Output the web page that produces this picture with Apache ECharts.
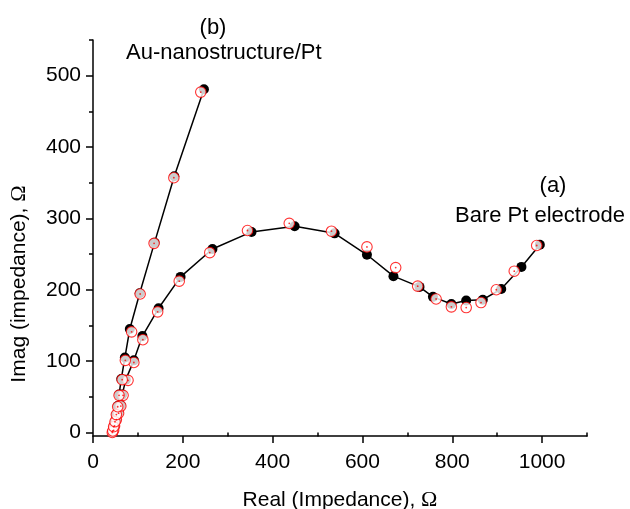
<!DOCTYPE html>
<html>
<head>
<meta charset="utf-8">
<script src="https://cdn.jsdelivr.net/npm/echarts@6/dist/echarts.min.js"></script>
<style>
html,body{margin:0;padding:0;background:#fff;}
#chart{width:630px;height:509px;}
</style>
</head>
<body>
<div id="chart"></div>
<script>
// Curve (b): Au-nanostructure/Pt — measured (black) and fitted (red)
const bMeasured = [[44,1],[46,8],[49,15],[52,25],[55,37],[58,53],[63,75],[71,105],[82,145],[104,195],[137,266],[181,359],[247,481]];
const bFitted = [[43,0],[44,2],[46,8],[49,15],[52,25],[55,36],[58,52],[65,74],[72,101],[86,141],[105,194],[136,265],[180,357],[240,477]];
// Curve (a): Bare Pt electrode — measured (black) and fitted (red)
const aMeasured = [[45,1],[48,9],[52,18],[57,28],[62,38],[65,53],[73,74],[91,101],[110,135],[146,174],[195,218],[266,257],[353,281],[449,289],[538,279],[610,249],[669,219],[727,204],[757,190],[798,180],[831,185],[868,186],[909,201],[954,232],[995,263]];
const aFitted = [[46,3],[48,9],[52,18],[57,27],[62,37],[67,52],[78,73],[91,98],[111,130],[144,169],[192,212],[260,252],[344,283],[437,293],[531,282],[610,260],[674,231],[723,205],[764,187],[798,176],[831,175],[864,182],[898,200],[938,226],[988,262]];

const xMajorTicks = [0,200,400,600,800,1000];
const xMinorTicks = [100,300,500,700,900,1100];
const yMajorTicks = [0,100,200,300,400,500];
const yMinorTicks = [50,150,250,350,450,550];

const xLabel = 'Real (Impedance), ';
const yLabel = 'Imag (impedance), ';
const omega = 'Ω';
const labelA1 = '(a)';
const labelA2 = 'Bare Pt electrode';
const labelB1 = '(b)';
const labelB2 = 'Au-nanostructure/Pt';

const FONT = 'Liberation Sans, Arial, sans-serif';
const SERIF = 'Liberation Serif, Times New Roman, serif';
const X_MIN = 0, X_MAX = 1100, Y_MIN = -5, Y_MAX = 550;

const chart = echarts.init(document.getElementById('chart'), null, {renderer:'canvas'});

function axisBase(extra){
  return Object.assign({
    type:'value',
    splitLine:{show:false},
    axisLine:{show:true, onZero:false, lineStyle:{color:'#000', width:1.5}},
  }, extra);
}

const plain = (v) => String(v);

const measuredLine = (data) => ({
  type:'line', data, xAxisIndex:0, yAxisIndex:0,
  symbol:'circle', symbolSize:10, showSymbol:true,
  lineStyle:{color:'#000', width:1.5},
  itemStyle:{color:'#000', borderWidth:0},
  emphasis:{disabled:true}, animation:false, z:2, clip:false
});
const fitRing = (data) => ({
  type:'scatter', data, xAxisIndex:0, yAxisIndex:0,
  symbol:'circle', symbolSize:10.5,
  itemStyle:{color:'#fff', borderColor:'#ff0000', borderWidth:1.1},
  emphasis:{disabled:true}, animation:false, z:3, clip:false
});
const fitDot = (data) => ({
  type:'scatter', data, xAxisIndex:0, yAxisIndex:0,
  symbol:'circle', symbolSize:1.8,
  itemStyle:{color:'#ff0000'},
  emphasis:{disabled:true}, animation:false, z:4, clip:false
});

chart.setOption({
  backgroundColor:'#fff',
  animation:false,
  grid:{left:93, right:43, top:40, bottom:73, containLabel:false, outerBoundsMode:'none'},
  xAxis:[
    axisBase({min:X_MIN, max:X_MAX, position:'bottom',
      name: '{t|' + xLabel + '}{o|' + omega + '}',
      nameLocation:'middle', nameGap:53,
      nameTextStyle:{rich:{t:{fontFamily:FONT, fontSize:21, color:'#000'}, o:{fontFamily:SERIF, fontSize:22, color:'#000'}}},
      axisTick:{show:true, inside:false, length:7, lineStyle:{color:'#000', width:1.5}, customValues:xMajorTicks},
      axisLabel:{show:true, fontFamily:FONT, fontSize:21, color:'#000', margin:16, formatter:plain, customValues:xMajorTicks}
    }),
    axisBase({min:X_MIN, max:X_MAX, position:'bottom',
      axisLine:{show:false},
      axisTick:{show:true, inside:false, length:4, lineStyle:{color:'#000', width:1.5}, customValues:xMinorTicks},
      axisLabel:{show:false}
    })
  ],
  yAxis:[
    axisBase({min:Y_MIN, max:Y_MAX, position:'left',
      axisTick:{show:true, inside:false, length:7, lineStyle:{color:'#000', width:1.5}, customValues:yMajorTicks},
      axisLabel:{show:true, fontFamily:FONT, fontSize:21, color:'#000', margin:12, formatter:plain, customValues:yMajorTicks}
    }),
    axisBase({min:Y_MIN, max:Y_MAX, position:'left',
      axisLine:{show:false},
      axisTick:{show:true, inside:false, length:4, lineStyle:{color:'#000', width:1.5}, customValues:yMinorTicks},
      axisLabel:{show:false}
    })
  ],
  graphic:[
    {type:'text', x:19, y:284, rotation:Math.PI/2, z:10,
      style:{rich:{t:{fontFamily:FONT, fontSize:21, fill:'#000'}, o:{fontFamily:SERIF, fontSize:22, fill:'#000'}},
        text:'{t|' + yLabel + '}{o|' + omega + '}', align:'center', verticalAlign:'middle'}},
    {type:'text', x:213, y:28, z:10, style:{text:labelB1, fontFamily:FONT, fontSize:22, fill:'#000', align:'center', verticalAlign:'middle'}},
    {type:'text', x:126, y:53, z:10, style:{text:labelB2, fontFamily:FONT, fontSize:22, fill:'#000', align:'left', verticalAlign:'middle'}},
    {type:'text', x:553, y:186, z:10, style:{text:labelA1, fontFamily:FONT, fontSize:22, fill:'#000', align:'center', verticalAlign:'middle'}},
    {type:'text', x:455, y:216, z:10, style:{text:labelA2, fontFamily:FONT, fontSize:22, fill:'#000', align:'left', verticalAlign:'middle'}}
  ],
  series:[
    measuredLine(aMeasured),
    measuredLine(bMeasured),
    fitRing(aFitted),
    fitRing(bFitted),
    fitDot(aFitted),
    fitDot(bFitted)
  ]
});
</script>
</body>
</html>
